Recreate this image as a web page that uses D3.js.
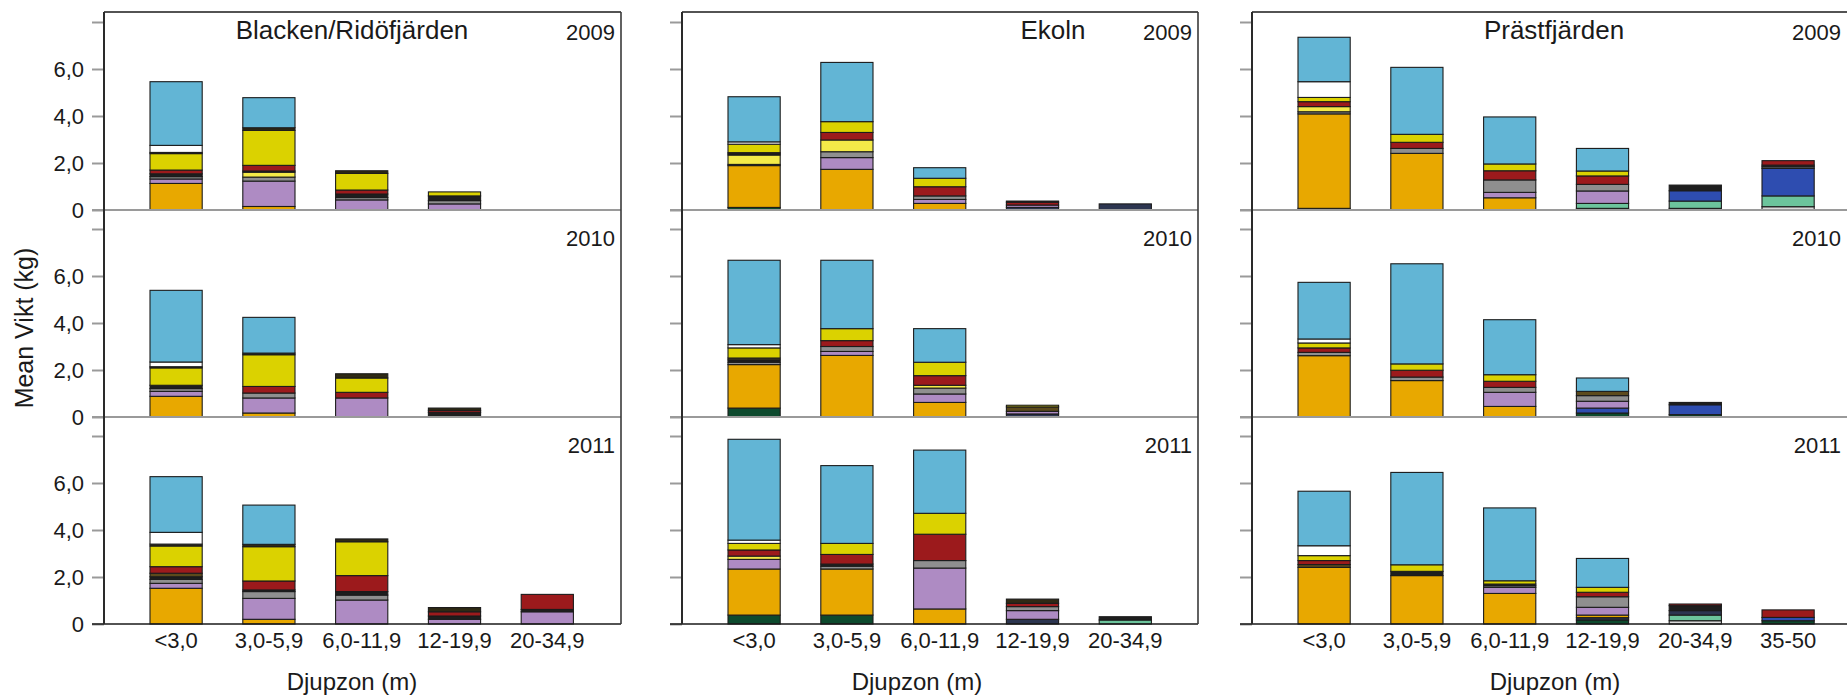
<!DOCTYPE html>
<html>
<head>
<meta charset="utf-8">
<script src="https://cdn.jsdelivr.net/npm/d3@7"></script>
<style>
  body { margin: 0; background: #fff; }
  text { font-family: "Liberation Sans", Arial, sans-serif; fill: #1a1a1a; }
</style>
</head>
<body>
<svg id="chart"></svg>
<script>
// depth zones, lakes and years
const zones = ["<3,0", "3,0-5,9", "6,0-11,9", "12-19,9", "20-34,9", "35-50"];
const lakes = ["Blacken/Ridöfjärden", "Ekoln", "Prästfjärden"];
const years = ["2009", "2010", "2011"];
const yTicks = [0, 2, 4, 6, 8];
const yTickLabels = ["0", "2,0", "4,0", "6,0", ""];

// species groups, stacked bottom -> top
const species = ["sp01", "sp02", "sp03", "sp04", "sp05", "sp06", "sp07", "sp08",
  "sp09", "sp10", "sp11", "sp12", "sp13", "sp14", "sp15", "sp16"];
const speciesColors = ["#dadada", "#0d4a2e", "#6cc49c", "#2c3550", "#2e4db0", "#e8a800",
  "#ae8bc3", "#8f8f8f", "#f4ea48", "#1e1e1e", "#5c4a1c", "#9c1a1c", "#dbd200",
  "#2f2a14", "#ffffff", "#62b5d5"];

// mean weight (kg) per depth zone, values in species order
const blacken2009 = [
  [0, 0, 0, 0, 0, 1.13, 0.19, 0.10, 0, 0.12, 0, 0.16, 0.70, 0.05, 0.30, 2.71],
  [0, 0, 0, 0, 0, 0.15, 1.08, 0.17, 0.21, 0.05, 0, 0.24, 1.49, 0.11, 0, 1.28],
  [0, 0, 0, 0, 0, 0, 0.43, 0.10, 0, 0.15, 0, 0.17, 0.71, 0.11, 0, 0],
  [0, 0, 0, 0, 0, 0, 0.26, 0.14, 0, 0.20, 0, 0, 0.17, 0, 0, 0],
  [0, 0, 0, 0, 0, 0, 0, 0, 0, 0, 0, 0, 0, 0, 0, 0]
];
const blacken2010 = [
  [0, 0, 0, 0, 0, 0.88, 0.21, 0.12, 0, 0.14, 0, 0, 0.74, 0.05, 0.20, 3.05],
  [0, 0, 0, 0, 0, 0.17, 0.64, 0.21, 0, 0, 0, 0.28, 1.35, 0.07, 0, 1.52],
  [0, 0, 0, 0, 0, 0, 0.81, 0, 0, 0, 0, 0.24, 0.61, 0.18, 0, 0],
  [0, 0, 0, 0, 0, 0, 0, 0, 0, 0.20, 0, 0.08, 0, 0.10, 0, 0],
  [0, 0, 0, 0, 0, 0, 0, 0, 0, 0, 0, 0, 0, 0, 0, 0]
];
const blacken2011 = [
  [0, 0, 0, 0, 0, 1.52, 0.21, 0.17, 0, 0.11, 0.15, 0.28, 0.88, 0.08, 0.50, 2.37],
  [0, 0, 0, 0, 0, 0.20, 0.89, 0.29, 0, 0.07, 0, 0.38, 1.46, 0.10, 0, 1.67],
  [0, 0, 0, 0, 0, 0, 1.02, 0.21, 0, 0.15, 0, 0.68, 1.44, 0.12, 0, 0],
  [0, 0, 0, 0, 0, 0, 0.20, 0, 0, 0.14, 0, 0.18, 0, 0.18, 0, 0],
  [0, 0, 0, 0, 0, 0, 0.52, 0, 0, 0.10, 0, 0.64, 0, 0, 0, 0]
];
const ekoln2009 = [
  [0, 0.11, 0, 0, 0, 1.78, 0, 0.05, 0.40, 0.05, 0, 0.05, 0.36, 0, 0.10, 1.92],
  [0, 0, 0, 0, 0, 1.73, 0.50, 0.25, 0.50, 0, 0, 0.32, 0.46, 0, 0, 2.52],
  [0, 0, 0, 0, 0, 0.28, 0.17, 0.15, 0, 0, 0, 0.39, 0.36, 0, 0, 0.45],
  [0, 0, 0, 0.11, 0, 0, 0.10, 0, 0, 0, 0, 0.12, 0, 0.05, 0, 0],
  [0, 0, 0, 0.26, 0, 0, 0, 0, 0, 0, 0, 0, 0, 0, 0, 0]
];
const ekoln2010 = [
  [0, 0.38, 0, 0, 0, 1.85, 0, 0.10, 0, 0.10, 0.08, 0, 0.43, 0, 0.14, 3.59],
  [0, 0, 0, 0, 0, 2.62, 0.17, 0.21, 0, 0, 0, 0.25, 0.51, 0, 0, 2.91],
  [0, 0, 0, 0, 0, 0.62, 0.36, 0.25, 0.12, 0, 0, 0.41, 0.57, 0, 0, 1.43],
  [0, 0, 0, 0.13, 0, 0, 0.11, 0, 0, 0, 0.19, 0, 0.07, 0, 0, 0],
  [0, 0, 0, 0, 0, 0, 0, 0, 0, 0, 0, 0, 0, 0, 0, 0]
];
const ekoln2011 = [
  [0, 0.38, 0, 0, 0, 1.96, 0.41, 0, 0.14, 0, 0, 0.26, 0.28, 0, 0.14, 4.29],
  [0, 0.38, 0, 0, 0, 1.96, 0, 0.12, 0, 0.09, 0, 0.41, 0.47, 0, 0, 3.31],
  [0, 0, 0, 0, 0, 0.64, 1.74, 0.32, 0, 0, 0, 1.12, 0.89, 0, 0, 2.69],
  [0, 0, 0, 0.20, 0, 0, 0.37, 0.17, 0, 0, 0, 0.14, 0, 0.18, 0, 0],
  [0, 0, 0.17, 0, 0, 0, 0, 0, 0, 0.14, 0, 0, 0, 0, 0, 0]
];
const prast2009 = [
  [0, 0.07, 0, 0, 0, 4.02, 0, 0.09, 0.22, 0, 0, 0.21, 0.18, 0, 0.67, 1.89],
  [0, 0, 0, 0, 0, 2.41, 0, 0.21, 0, 0, 0, 0.26, 0.34, 0, 0, 2.85],
  [0, 0, 0, 0, 0, 0.52, 0.23, 0.53, 0, 0, 0, 0.39, 0.29, 0, 0, 2.00],
  [0, 0.07, 0.21, 0, 0, 0, 0.53, 0.28, 0, 0, 0, 0.36, 0.21, 0, 0, 0.96],
  [0, 0.07, 0.31, 0, 0.44, 0, 0, 0, 0, 0.24, 0, 0, 0, 0, 0, 0],
  [0.14, 0, 0.46, 0, 1.17, 0, 0, 0.07, 0, 0.07, 0, 0.19, 0, 0, 0, 0]
];
const prast2010 = [
  [0, 0, 0, 0, 0, 2.61, 0, 0.14, 0, 0, 0, 0.19, 0.21, 0, 0.17, 2.41],
  [0, 0, 0, 0, 0, 1.55, 0, 0.15, 0, 0, 0, 0.29, 0.27, 0, 0, 4.26],
  [0, 0, 0, 0, 0, 0.45, 0.60, 0.21, 0, 0, 0, 0.26, 0.28, 0, 0, 2.34],
  [0, 0.17, 0, 0, 0.21, 0, 0.29, 0.24, 0, 0, 0.18, 0, 0, 0, 0, 0.57],
  [0, 0.10, 0, 0, 0.42, 0, 0, 0, 0, 0.10, 0, 0, 0, 0, 0, 0],
  [0, 0, 0, 0, 0, 0, 0, 0, 0, 0, 0, 0, 0, 0, 0, 0]
];
const prast2011 = [
  [0, 0, 0, 0, 0, 2.41, 0, 0, 0, 0, 0.12, 0.17, 0.21, 0, 0.42, 2.32],
  [0, 0, 0, 0, 0, 2.06, 0, 0, 0, 0.18, 0, 0, 0.28, 0, 0, 3.93],
  [0, 0, 0, 0, 0, 1.30, 0.26, 0.07, 0, 0.07, 0, 0, 0.14, 0, 0, 3.10],
  [0, 0.17, 0, 0.10, 0, 0.11, 0.33, 0.45, 0, 0, 0, 0.19, 0.21, 0, 0, 1.23],
  [0.14, 0, 0.24, 0.19, 0, 0, 0, 0, 0, 0.21, 0, 0.07, 0, 0, 0, 0],
  [0, 0.14, 0, 0, 0.14, 0, 0, 0, 0, 0, 0, 0.32, 0, 0, 0, 0]
];

const panelData = [
  [blacken2009, blacken2010, blacken2011],
  [ekoln2009, ekoln2010, ekoln2011],
  [prast2009, prast2010, prast2011]
];

// layout
const width = 1847;
const height = 698;
const panelLeft = [104, 682, 1252];
const panelRight = [621, 1198, 1848];
const titleX = [352, 1053, 1554];
const xTitleX = [352, 917, 1555];
const rowZero = [210, 417, 624];
const frameTop = 12;
const unit = 23.5;
const step = 92.8;

const svg = d3.select('#chart')
  .attr('width', width)
  .attr('height', height);

const stack = d3.stack().keys(species);
const color = d3.scaleOrdinal().domain(species).range(speciesColors);

lakes.forEach(function (lake, c) {
  let cats = zones.slice(0, panelData[c][0].length);
  let x0 = panelLeft[c] + 25.7;
  let x = d3.scaleBand()
    .domain(cats)
    .range([x0, x0 + cats.length * step])
    .paddingInner(0.4375)
    .paddingOuter(0.21875);

  let panel = svg.append('g');

  years.forEach(function (yr, r) {
    let y = d3.scaleLinear()
      .domain([0, 8.8])
      .range([rowZero[r], rowZero[r] - 8.8 * unit]);

    let rows = panelData[c][r].map(function (vals, i) {
      let o = { zone: cats[i] };
      species.forEach((s, k) => o[s] = vals[k]);
      return o;
    });
    let series = stack(rows);

    panel.append('g')
      .selectAll('g')
      .data(series)
      .enter().append('g')
      .attr('fill', d => color(d.key))
      .selectAll('rect')
      .data(d => d.filter(p => p[1] - p[0] > 0))
      .enter().append('rect')
      .attr('x', p => x(p.data.zone))
      .attr('y', p => y(p[1]))
      .attr('width', x.bandwidth())
      .attr('height', p => y(p[0]) - y(p[1]))
      .attr('stroke', '#1c1c1c')
      .attr('stroke-width', 1.1);

    // y axis ticks
    let axis = d3.axisLeft(y)
      .tickValues(yTicks)
      .tickSize(12)
      .tickPadding(8)
      .tickFormat((d, i) => c === 0 ? yTickLabels[i] : '');
    let ag = panel.append('g')
      .attr('transform', 'translate(' + panelLeft[c] + ',0)')
      .call(axis);
    ag.select('.domain').remove();
    ag.selectAll('.tick line').attr('stroke', '#9a9a9a').attr('stroke-width', 2);
    ag.selectAll('.tick text')
      .style('font-size', '22px')
      .attr('fill', '#1a1a1a');
    // hide the tick that would poke above the top frame
    ag.selectAll('.tick').filter(d => y(d) < frameTop).remove();

    // zero line / row separator
    panel.append('line')
      .attr('x1', panelLeft[c] - 12)
      .attr('x2', panelRight[c])
      .attr('y1', y(0))
      .attr('y2', y(0))
      .attr('stroke', r === 2 ? '#1a1a1a' : '#9a9a9a')
      .attr('stroke-width', r === 2 ? 1.6 : 2);

    // year label
    panel.append('text')
      .attr('x', Math.min(panelRight[c], width) - 6)
      .attr('y', r === 0 ? 40 : rowZero[r] - 171)
      .attr('text-anchor', 'end')
      .style('font-size', '22px')
      .text(yr);
  });

  // frame
  panel.append('line')
    .attr('x1', panelLeft[c]).attr('x2', panelRight[c])
    .attr('y1', frameTop).attr('y2', frameTop)
    .attr('stroke', '#1a1a1a').attr('stroke-width', 1.6);
  [panelLeft[c], panelRight[c]].forEach(function (px, k) {
    panel.append('line')
      .attr('x1', px).attr('x2', px)
      .attr('y1', frameTop).attr('y2', rowZero[2])
      .attr('stroke', k === 0 ? '#2a2a2a' : '#3a3a3a')
      .attr('stroke-width', k === 0 ? 2 : 1.6);
  });

  // x axis under the bottom row
  let xAxis = d3.axisBottom(x).tickSize(0).tickPadding(8);
  let xg = panel.append('g')
    .attr('transform', 'translate(0,' + rowZero[2] + ')')
    .call(xAxis);
  xg.select('.domain').remove();
  xg.selectAll('.tick text').style('font-size', '22px').attr('fill', '#1a1a1a');

  panel.append('text')
    .attr('x', xTitleX[c])
    .attr('y', 690)
    .attr('text-anchor', 'middle')
    .style('font-size', '24px')
    .text('Djupzon (m)');

  panel.append('text')
    .attr('x', titleX[c])
    .attr('y', 39)
    .attr('text-anchor', 'middle')
    .style('font-size', '26px')
    .text(lake);
});

svg.append('text')
  .attr('transform', 'translate(33,328) rotate(-90)')
  .attr('text-anchor', 'middle')
  .style('font-size', '25px')
  .text('Mean Vikt (kg)');
</script>
</body>
</html>
